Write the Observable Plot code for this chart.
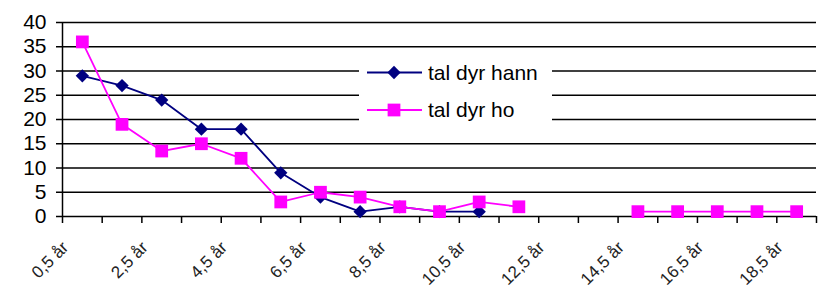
<!DOCTYPE html>
<html>
<head>
<meta charset="utf-8">
<script src="https://cdn.jsdelivr.net/npm/d3@7"></script>
<script src="https://cdn.jsdelivr.net/npm/@observablehq/plot@0.6"></script>
<style>
  html, body { margin: 0; padding: 0; background: white; }
  #chart { width: 825px; height: 297px; }
</style>
</head>
<body>
<div id="chart"></div>
<script>
const categories = ["0,5 år","1,5 år","2,5 år","3,5 år","4,5 år","5,5 år","6,5 år","7,5 år","8,5 år","9,5 år",
  "10,5 år","11,5 år","12,5 år","13,5 år","14,5 år","15,5 år","16,5 år","17,5 år","18,5 år"];
const hann = [29, 27, 24, 18, 18, 9, 4, 1, 2, 1, 1, null, null, null, null, null, null, null, null];
const ho   = [36, 19, 13.5, 15, 12, 3, 5, 4, 2, 1, 3, 2, null, null, 1, 1, 1, 1, 1];
const yTicks = [0, 5, 10, 15, 20, 25, 30, 35, 40];
const seriesNames = ["tal dyr hann", "tal dyr ho"];
const seriesColors = ["#000080", "#ff00ff"];

const rows = categories.map((c, i) => ({i, cat: c, hann: hann[i], ho: ho[i]}));
const labelRows = rows.filter(d => d.i % 2 === 0);
const boundaries = d3.range(0, categories.length + 1);

const font = "'Liberation Sans', Arial, sans-serif";

const svg = Plot.plot({
  width: 825,
  height: 297,
  marginLeft: 62,
  marginRight: 9,
  marginTop: 22,
  marginBottom: 81,
  style: {fontFamily: font, background: "white", color: "black"},
  x: {type: "linear", domain: [0, categories.length], axis: null},
  y: {domain: [0, 40], axis: null},
  marks: [
    Plot.ruleY(yTicks, {stroke: "black", strokeWidth: 1.5}),
    Plot.ruleX([0], {y1: 0, y2: 40, stroke: "black", strokeWidth: 1.5}),
    Plot.axisY({ticks: yTicks, tickSize: 6, tickPadding: 10, fontSize: 21, strokeWidth: 1.5, stroke: "black", fill: "black"}),
    Plot.axisX({ticks: boundaries, tickSize: 7, tickFormat: () => "", strokeWidth: 1.5, stroke: "black"}),
    Plot.text(labelRows, {x: d => d.i + 0.5, frameAnchor: "bottom", text: "cat", rotate: -45, textAnchor: "end",
      dx: -13, dy: 32, fontSize: 17, fill: "#222"}),
    Plot.line(rows, {x: d => d.i + 0.5, y: "hann", stroke: seriesColors[0], strokeWidth: 1.8}),
    Plot.line(rows, {x: d => d.i + 0.5, y: "ho", stroke: seriesColors[1], strokeWidth: 1.8}),
    Plot.dot(rows.filter(d => d.hann != null), {x: d => d.i + 0.5, y: "hann", symbol: "diamond2", r: 6, fill: seriesColors[0], stroke: "none"}),
    Plot.dot(rows.filter(d => d.ho != null), {x: d => d.i + 0.5, y: "ho", symbol: "square", r: 7.2, fill: seriesColors[1], stroke: "none"})
  ]
});

// legend inside the plot area
const g = d3.select(svg).append("g").attr("font-family", font).attr("text-anchor", "start");
g.append("rect").attr("x", 359).attr("y", 49).attr("width", 193).attr("height", 77).attr("fill", "white");
const legendY = [72.5, 110];
const diamond = d3.symbol(d3.symbolDiamond2, 6 * 6 * Math.PI);
const square = d3.symbol(d3.symbolSquare, 7.2 * 7.2 * Math.PI);
seriesNames.forEach((name, k) => {
  const y = legendY[k];
  g.append("line").attr("x1", 367).attr("x2", 422).attr("y1", y).attr("y2", y)
    .attr("stroke", seriesColors[k]).attr("stroke-width", 1.8);
  g.append("path").attr("d", (k === 0 ? diamond : square)()).attr("transform", `translate(394,${y})`)
    .attr("fill", seriesColors[k]);
  g.append("text").attr("x", 428).attr("y", y).attr("dy", "0.35em").attr("font-size", 21)
    .attr("fill", "black").text(name);
});

document.getElementById("chart").appendChild(svg);
</script>
</body>
</html>
